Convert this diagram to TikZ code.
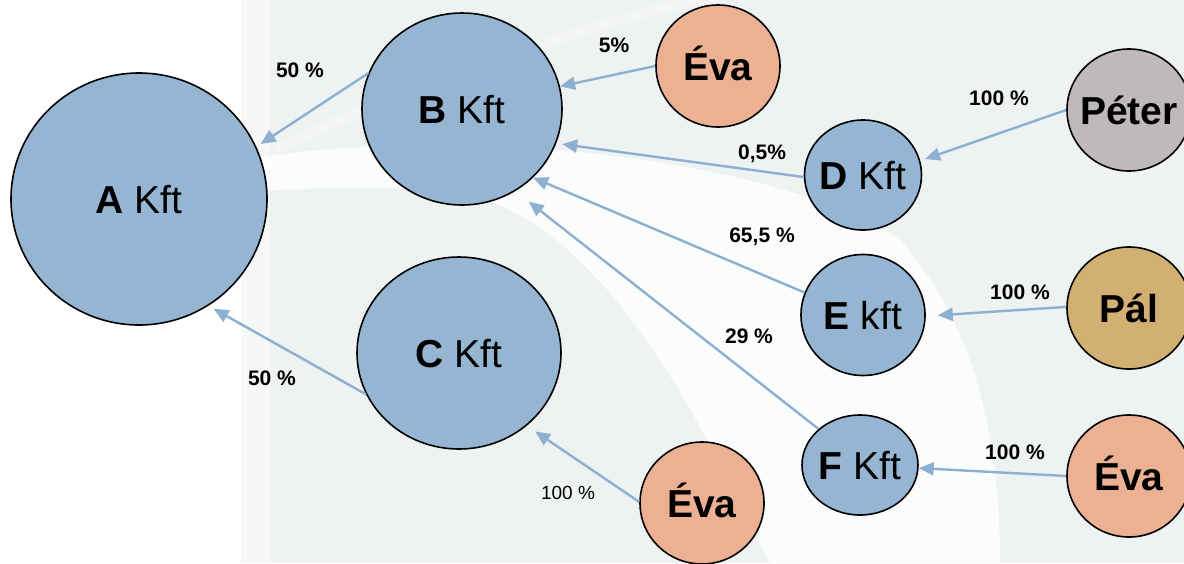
\documentclass[tikz,border=0pt]{standalone}
\usepackage{fontspec}
\setmainfont{Liberation Sans}
\usetikzlibrary{shapes.geometric,arrows.meta}

\definecolor{kftblue}{HTML}{95B5D3}
\definecolor{evaorange}{HTML}{EBB192}
\definecolor{petergray}{HTML}{C0B9B9}
\definecolor{palgold}{HTML}{D2B073}
\definecolor{arrowblue}{HTML}{8DB0D0}
\definecolor{bggray}{HTML}{EEF2F1}
\definecolor{bglight}{HTML}{F6F8F7}

\newcommand{\firm}[2]{\makebox[0pt]{\textbf{#1} #2}}
\newcommand{\who}[1]{\makebox[0pt]{\textbf{#1}}}

\begin{document}
\begin{tikzpicture}[x=1pt, y=-1pt,
        main/.style = {draw, ellipse, line width=1.6pt, inner sep=0pt, text height=28pt, text depth=0pt, font=\fontsize{39}{44}\selectfont},
        pct/.style = {inner sep=0pt, font=\fontsize{21}{25}\selectfont\bfseries},
        link/.style = {draw=arrowblue, line width=2.4pt, -{Triangle[length=15pt,width=13pt]}}]
        \useasboundingbox (0,0) rectangle (1184,563);

        \fill[white] (0,0) rectangle (1184,563);
        \fill[bglight] (241,0) rectangle (270,563);
        \fill[bggray] (270,0) rectangle (1184,563);
        \fill[white, opacity=0.8] (241,160) .. controls (500,118) and (800,170) .. (900,240)
            .. controls (980,330) and (1000,450) .. (1000,563) -- (770,563)
            .. controls (700,420) and (620,260) .. (500,205)
            .. controls (420,180) and (320,188) .. (241,192) -- cycle;
        \draw[white, opacity=0.35, line width=10pt] (275,150) .. controls (400,90) and (560,30) .. (720,-5);

        \node[main, fill=kftblue, minimum width=256pt, minimum height=252pt] (A) at (139,199) {\firm{A}{Kft}};
        \node[main, fill=kftblue, minimum width=200pt, minimum height=192pt] (B) at (462,109) {\firm{B}{Kft}};
        \node[main, fill=kftblue, minimum width=204pt, minimum height=192pt] (C) at (459,353) {\firm{C}{Kft}};
        \node[main, fill=kftblue, minimum width=117pt, minimum height=110pt] (D) at (863,175) {\firm{D}{Kft}};
        \node[main, fill=kftblue, minimum width=124pt, minimum height=121pt] (E) at (863,315) {\firm{E}{kft}};
        \node[main, fill=kftblue, minimum width=116pt, minimum height=100pt] (F) at (860,465) {\firm{F}{Kft}};

        \node[main, fill=evaorange, minimum width=124pt, minimum height=122pt] (eva1) at (718,66) {\who{Éva}};
        \node[main, fill=evaorange, minimum width=124pt, minimum height=122pt] (eva2) at (702,503) {\who{Éva}};
        \node[main, fill=evaorange, minimum width=124pt, minimum height=122pt] (eva3) at (1129,476) {\who{Éva}};
        \node[main, fill=petergray, minimum width=124pt, minimum height=122pt] (peter) at (1129,110) {\who{Péter}};
        \node[main, fill=palgold, minimum width=124pt, minimum height=122pt] (pal) at (1129,308) {\who{Pál}};

        \node[pct] (pBA) at (300,70) {50 \%};
        \node[pct] (pCA) at (272,378) {50 \%};
        \node[pct] (pEB1) at (614,45) {5\%};
        \node[pct] (pDB) at (762,154) {0,5\%};
        \node[pct] (pEB) at (762,237) {65,5 \%};
        \node[pct] (pFB) at (749,336) {29 \%};
        \node[pct] (pPD) at (999,98) {100 \%};
        \node[pct] (pPE) at (1020,292) {100 \%};
        \node[pct] (pEF) at (1015,452) {100 \%};
        \node[pct, font=\fontsize{19}{23}\selectfont] (pEC) at (568,493) {100 \%};

        \draw[link, shorten >=5pt] (B.159) -- (A.24);
        \draw[link, shorten >=6pt] (C.204) -- (A.-57);
        \draw[link] (eva1.180) -- (B.13);
        \draw[link, shorten >=6pt] (D.182) -- (B.-20);
        \draw[link] (E.159) -- (B.-44);
        \draw[link, shorten >=17pt] (F.139) -- (B.-57);
        \draw[link, shorten >=10pt] (eva2.179) -- (C.-47);
        \draw[link, shorten >=5pt] (peter.180) -- (D.14);
        \draw[link, shorten >=12pt] (pal.179) -- (E.-1);
        \draw[link] (eva3.180) -- (F.-3);
    \end{tikzpicture}
\end{document}
